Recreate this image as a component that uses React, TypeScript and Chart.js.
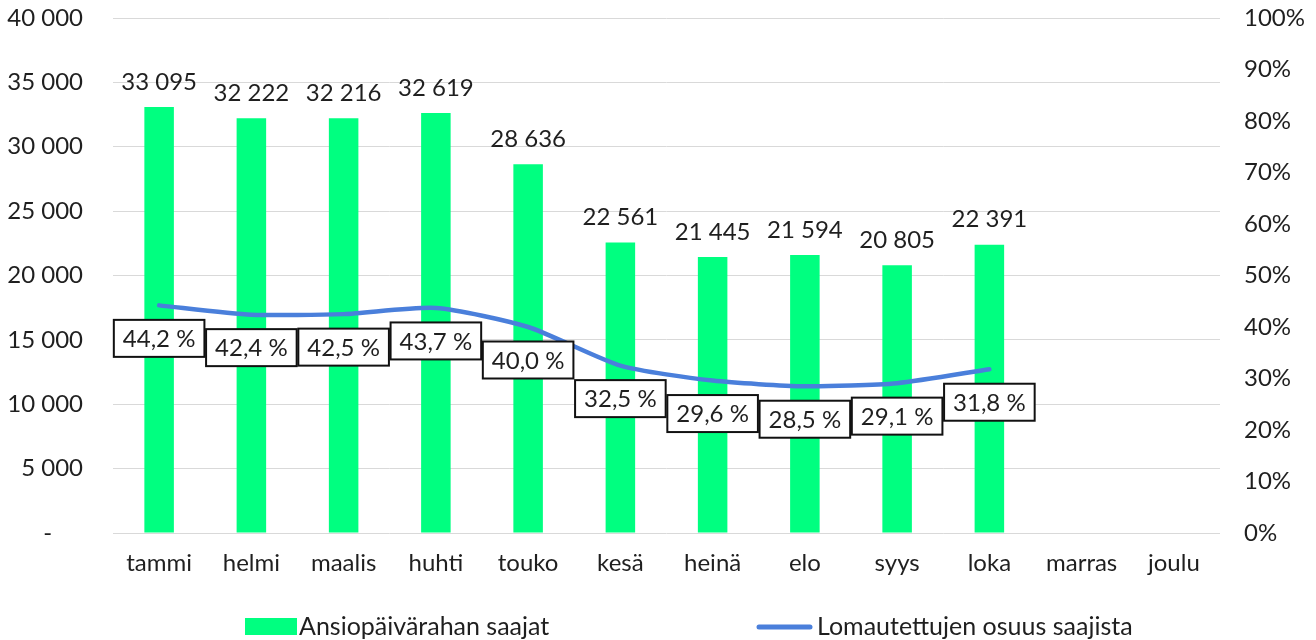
import React, { useEffect, useRef } from "react";
import { Chart, registerables } from "chart.js";

Chart.register(...registerables);

const months = ["tammi", "helmi", "maalis", "huhti", "touko", "kesä", "heinä", "elo", "syys", "loka", "marras", "joulu"];
const recipients = [33095, 32222, 32216, 32619, 28636, 22561, 21445, 21594, 20805, 22391, null, null];
const laidOffShare = [44.2, 42.4, 42.5, 43.7, 40.0, 32.5, 29.6, 28.5, 29.1, 31.8, null, null];
const barLabel = "Ansiopäivärahan saajat";
const lineLabel = "Lomautettujen osuus saajista";

const FONT = "Lato, 'Open Sans', sans-serif";
const FS = 24;
const GREEN = "#00FF80";
const BLUE = "#4A7FDB";
const TEXT = "#1f1f1f";

const fmtThousands = (v: number) => {
  const s = Math.round(v).toString();
  return s.replace(/\B(?=(\d{3})+(?!\d))/g, " ");
};
const fmtPct = (v: number) => v.toFixed(1).replace(".", ",") + " %";

const labelsPlugin = {
  id: "customLabels",
  afterDatasetsDraw(chart: any) {
    const ctx = chart.ctx;
    ctx.save();
    ctx.font = `${FS}px ${FONT}`;
    ctx.fillStyle = TEXT;
    ctx.textAlign = "center";
    ctx.textBaseline = "middle";
    const barMeta = chart.getDatasetMeta(0);
    barMeta.data.forEach((el: any, i: number) => {
      const v = recipients[i];
      if (v == null) return;
      ctx.fillText(fmtThousands(v), el.x, el.y - 25);
    });
    const lineMeta = chart.getDatasetMeta(1);
    lineMeta.data.forEach((el: any, i: number) => {
      const v = laidOffShare[i];
      if (v == null) return;
      const text = fmtPct(v);
      const w = ctx.measureText(text).width + 18;
      const h = 37;
      const cx = el.x;
      const cy = el.y + 33;
      ctx.fillStyle = "#fff";
      ctx.fillRect(cx - w / 2, cy - h / 2, w, h);
      ctx.strokeStyle = "#111";
      ctx.lineWidth = 2;
      ctx.strokeRect(cx - w / 2, cy - h / 2, w, h);
      ctx.fillStyle = TEXT;
      ctx.fillText(text, cx, cy + 1);
    });
    ctx.restore();
  },
  afterDraw(chart: any) {
    const ctx = chart.ctx;
    ctx.save();
    ctx.font = `25px ${FONT}`;
    ctx.textBaseline = "middle";
    ctx.textAlign = "left";
    const y = 627;
    ctx.fillStyle = GREEN;
    ctx.fillRect(245, 618, 52, 17);
    ctx.fillStyle = TEXT;
    ctx.fillText(barLabel, 299, y);
    ctx.strokeStyle = BLUE;
    ctx.lineWidth = 5;
    ctx.lineCap = "round";
    ctx.beginPath();
    ctx.moveTo(759, y);
    ctx.lineTo(810, y);
    ctx.stroke();
    ctx.fillText(lineLabel, 817, y);
    ctx.restore();
  },
};

export default function App() {
  const ref = useRef<HTMLCanvasElement>(null);
  useEffect(() => {
    document.body.style.margin = "0";
    const chart = new Chart(ref.current!, {
      type: "bar",
      data: {
        labels: months,
        datasets: [
          {
            type: "bar",
            label: barLabel,
            data: recipients,
            backgroundColor: GREEN,
            barPercentage: 0.32,
            categoryPercentage: 1,
            yAxisID: "y",
            order: 2,
          },
          {
            type: "line",
            label: lineLabel,
            data: laidOffShare,
            borderColor: BLUE,
            borderWidth: 4.5,
            borderCapStyle: "round",
            borderJoinStyle: "round",
            pointRadius: 0,
            tension: 0.22,
            yAxisID: "y1",
            order: 1,
          } as any,
        ],
      },
      options: {
        animation: false,
        responsive: false,
        layout: { padding: { top: 18, left: 0, right: 0, bottom: 0 } },
        plugins: { legend: { display: false }, tooltip: { enabled: false } },
        scales: {
          x: {
            grid: { display: false, drawTicks: false },
            border: { display: false },
            ticks: { font: { family: FONT, size: FS }, color: TEXT, padding: 16, maxRotation: 0 },
            afterFit: (s: any) => { s.height = 107; s.paddingLeft = 0; s.paddingRight = 0; },
          },
          y: {
            position: "left",
            min: 0,
            max: 40000,
            ticks: {
              stepSize: 5000,
              font: { family: FONT, size: FS },
              color: TEXT,
              padding: 30,
              callback: (v: any) => (Number(v) === 0 ? "-     " : fmtThousands(Number(v))),
            },
            grid: { color: "#d9d9d9", lineWidth: 1, drawTicks: false },
            border: { display: false },
            afterFit: (s: any) => { s.width = 113; s.paddingTop = 0; s.paddingBottom = 0; },
          },
          y1: {
            position: "right",
            min: 0,
            max: 100,
            ticks: {
              stepSize: 10,
              font: { family: FONT, size: FS },
              color: TEXT,
              padding: 24,
              callback: (v: any) => `${v}%`,
            },
            grid: { display: false, drawTicks: false },
            border: { display: false },
            afterFit: (s: any) => { s.width = 96; s.paddingTop = 0; s.paddingBottom = 0; },
          },
        },
      },
      plugins: [labelsPlugin],
    });
    return () => chart.destroy();
  }, []);
  return <canvas ref={ref} width={1316} height={640} style={{ display: "block" }} />;
}
